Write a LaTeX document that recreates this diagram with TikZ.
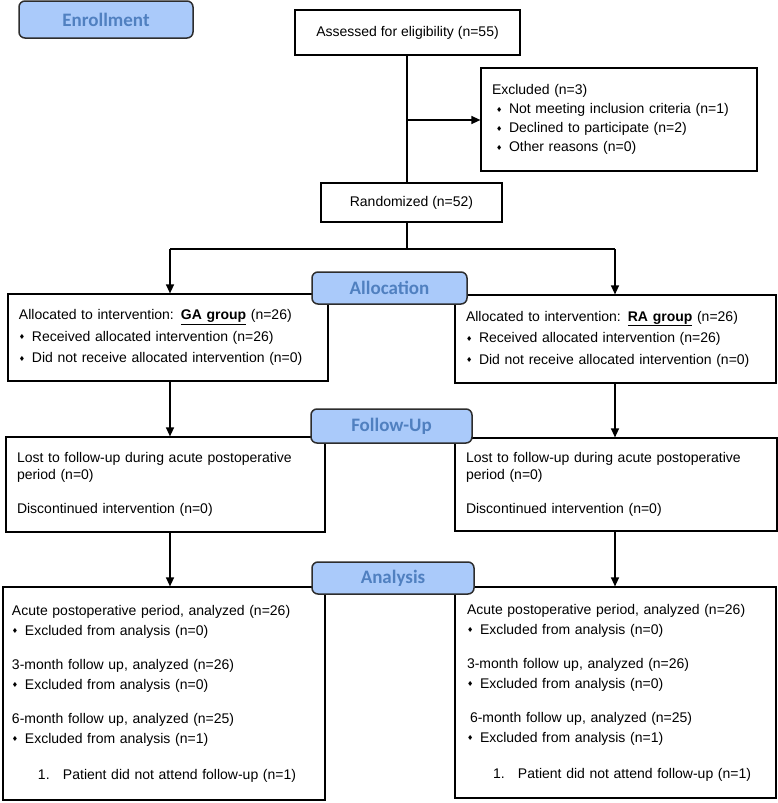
\documentclass[tikz,border=0pt]{standalone}
\usepackage{fontspec}
\setmainfont{Liberation Sans}
\newfontfamily\labfont{Carlito}
\newfontfamily\symfont{DejaVu Sans}
\usetikzlibrary{arrows.meta}
\definecolor{labfill}{RGB}{170,202,250}
\definecolor{labtext}{RGB}{80,128,192}
\definecolor{labdraw}{RGB}{45,45,45}
\newcommand{\bul}{\makebox[13pt][l]{\raisebox{1.5pt}{\symfont\fontsize{7}{7}\selectfont ♦}}}
\begin{document}
\begin{tikzpicture}[x=1pt,y=-1pt,
  box/.style={draw=black,line width=1.2pt,fill=white,inner xsep=11pt,inner ysep=0pt,
    align=left,font=\fontsize{14}{19}\selectfont},
  cbox/.style={draw=black,line width=1.2pt,fill=white,inner sep=0pt,align=center,
    font=\fontsize{14}{19}\selectfont},
  lab/.style={draw=labdraw,line width=1.5pt,fill=labfill,rounded corners=6pt,
    text=labtext,inner sep=0pt,font=\labfont\bfseries\fontsize{19}{22}\selectfont},
  conn/.style={line width=1.3pt,black},
  arr/.style={conn,-{Triangle[width=8pt,length=9pt]}}]
\useasboundingbox (0,0) rectangle (778,803);

% boxes
\node[cbox,minimum width=225pt,minimum height=45pt] (assess) at (407.5,32.5) {Assessed for eligibility (n=55)};
\node[box,text width=254pt,minimum height=103pt] (excl) at (619,119.5) {Excluded (n=3)\\
\hspace*{4pt}\bul Not meeting inclusion criteria (n=1)\\
\hspace*{4pt}\bul Declined to participate (n=2)\\
\hspace*{4pt}\bul Other reasons (n=0)};
\node[cbox,minimum width=181pt,minimum height=39pt] (rand) at (411.5,202.5) {Randomized (n=52)};

\node[box,text width=298pt,minimum height=87pt] (ga) at (168,337.5) {Allocated to intervention: \textbf{\underline{GA group}} (n=26)\\[2.5pt]
\bul Received allocated intervention (n=26)\\[2.5pt]
\bul Did not receive allocated intervention (n=0)};
\node[box,text width=299pt,minimum height=88pt] (ra) at (615.5,339) {Allocated to intervention: \textbf{\underline{RA group}} (n=26)\\[2.5pt]
\bul Received allocated intervention (n=26)\\[2.5pt]
\bul Did not receive allocated intervention (n=0)};

\node[box,text width=297pt,minimum height=95pt] (gafu) at (165.5,484.5) {Lost to follow-up during acute postoperative\\[-2pt]
period (n=0)\\[15pt]
Discontinued intervention (n=0)};
\node[box,text width=300pt,minimum height=93pt] (rafu) at (616,484.5) {Lost to follow-up during acute postoperative\\[-2pt]
period (n=0)\\[15pt]
Discontinued intervention (n=0)};

\node[box,inner xsep=9pt,text width=304pt,minimum height=213pt] (gaan) at (164,693.5) {Acute postoperative period, analyzed (n=26)\\[1pt]
\bul Excluded from analysis (n=0)\\[15pt]
3-month follow up, analyzed (n=26)\\[1pt]
\bul Excluded from analysis (n=0)\\[15pt]
6-month follow up, analyzed (n=25)\\[1pt]
\bul Excluded from analysis (n=1)\\[17pt]
\hspace*{26pt}\makebox[25pt][l]{1.}Patient did not attend follow-up (n=1)};
\node[box,inner xsep=12pt,text width=297pt,minimum height=211pt] (raan) at (615.5,692.5) {Acute postoperative period, analyzed (n=26)\\[1pt]
\bul Excluded from analysis (n=0)\\[15pt]
3-month follow up, analyzed (n=26)\\[1pt]
\bul Excluded from analysis (n=0)\\[15pt]
\hspace*{3pt}6-month follow up, analyzed (n=25)\\[1pt]
\bul Excluded from analysis (n=1)\\[17pt]
\hspace*{26pt}\makebox[25pt][l]{1.}Patient did not attend follow-up (n=1)};

% connector coordinates
\coordinate (trunk) at (407,120);
\coordinate (splitC) at (407,249);
\coordinate (splitL) at (170,249);
\coordinate (splitR) at (615,249);

% connectors
\draw[conn] (assess.south -| trunk) -- (rand.north -| trunk);
\draw[arr] (trunk) -- (excl.west |- trunk);
\draw[conn] (rand.south -| splitC) -- (splitC);
\draw[conn] (splitL) -- (splitR);
\draw[arr] (splitL) -- (ga.north -| splitL);
\draw[arr] (splitR) -- (ra.north -| splitR);
\draw[arr] (ga.south -| splitL) -- (gafu.north -| splitL);
\draw[arr] (ra.south -| splitR) -- (rafu.north -| splitR);
\draw[arr] (gafu.south -| splitL) -- (gaan.north -| splitL);
\draw[arr] (rafu.south -| splitR) -- (raan.north -| splitR);

% stage labels
\node[lab,minimum width=174pt,minimum height=37pt] (enroll) at (106,19.5) {Enrollment};
\node[lab,minimum width=155pt,minimum height=32pt] (alloc) at (389.5,288) {Allocation};
\node[lab,minimum width=161pt,minimum height=34pt] (fu) at (391.5,426) {Follow-Up};
\node[lab,minimum width=162pt,minimum height=32pt] (an) at (393,578) {Analysis};
\end{tikzpicture}
\end{document}
